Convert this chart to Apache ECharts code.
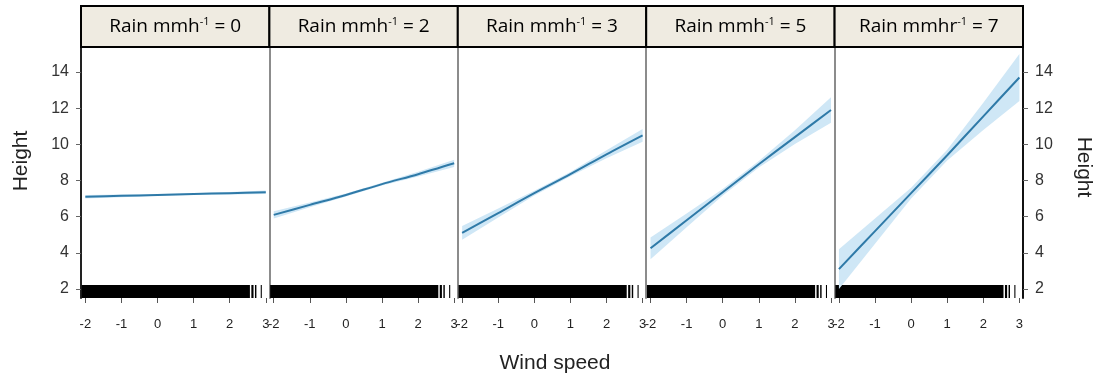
<!DOCTYPE html>
<html>
<head>
<meta charset="utf-8">
<title>Height vs wind speed by rain intensity</title>
<script src="https://cdn.jsdelivr.net/npm/echarts@6/dist/echarts.min.js"></script>
<style>
  html, body { margin: 0; padding: 0; background: #ffffff; }
  #chart { width: 1105px; height: 378px; }
</style>
</head>
<body>
<div id="chart"></div>
<script>
// Wind speed (standardised) at which the fitted curves are evaluated
const windSpeed = [-2, -1, 0, 1, 2, 3];
const windTicks = [-2, -1, 0, 1, 2, 3];
const heightTicks = [2, 4, 6, 8, 10, 12, 14];

// Panel strips: rain intensity and the unit text written in each strip
const rainLevels = ['0', '2', '3', '5', '7'];
const rainUnits = ['mmh', 'mmh', 'mmh', 'mmh', 'mmhr'];

// Fitted height for each rain level
const fitRain0 = [7.10, 7.15, 7.20, 7.25, 7.30, 7.35];
const fitRain2 = [6.10, 6.65, 7.20, 7.80, 8.35, 8.95];
const fitRain3 = [5.10, 6.20, 7.30, 8.35, 9.45, 10.50];
const fitRain5 = [4.25, 5.80, 7.35, 8.90, 10.40, 11.90];
const fitRain7 = [3.10, 5.20, 7.30, 9.40, 11.55, 13.70];

// Half-width of the confidence band around each fit
const ciRain0 = [0.10, 0.07, 0.05, 0.05, 0.07, 0.10];
const ciRain2 = [0.20, 0.13, 0.08, 0.08, 0.13, 0.20];
const ciRain3 = [0.38, 0.25, 0.13, 0.12, 0.22, 0.35];
const ciRain5 = [0.60, 0.38, 0.18, 0.18, 0.38, 0.70];
const ciRain7 = [1.10, 0.70, 0.30, 0.30, 0.75, 1.30];

// Rug of observed wind speeds: solid runs and isolated ticks [from, to]
const rugSegments = [[-2.1, 2.56], [2.60, 2.66], [2.70, 2.74], [2.86, 2.89]];

const fits = [fitRain0, fitRain2, fitRain3, fitRain5, fitRain7];
const cis = [ciRain0, ciRain2, ciRain3, ciRain5, ciRain7];

const X_MIN = -2.12, X_MAX = 3.1;
const Y_MIN = 1.5, Y_MAX = 15.33;
const RUG_TOP = 2.22;

const PANEL_LEFT = 81, PANEL_W = 188.4, PANEL_TOP = 48, PANEL_H = 250;
const LINE_COLOR = '#2f7aa8';
const BAND_COLOR = '#cfe7f6';
const SEP_COLOR = '#8c8c8c';

const grids = [], xAxes = [], yAxes = [], series = [], graphics = [];

for (let i = 0; i < 5; i++) {
  const left = PANEL_LEFT + i * PANEL_W;
  grids.push({ left: left, top: PANEL_TOP, width: PANEL_W, height: PANEL_H });

  xAxes.push({
    type: 'value', gridIndex: i, min: X_MIN, max: X_MAX,
    splitLine: { show: false },
    axisLine: { show: false, onZero: false },
    axisTick: { show: true, customValues: windTicks, length: 5, lineStyle: { color: '#555', width: 1 } },
    axisLabel: { show: true, customValues: windTicks, fontFamily: 'Liberation Sans', fontSize: 13, color: '#222', margin: 20 }
  });

  yAxes.push({
    type: 'value', gridIndex: i, min: Y_MIN, max: Y_MAX,
    splitLine: { show: false },
    axisLine: { show: true, onZero: false, lineStyle: { color: i === 0 ? '#222' : SEP_COLOR, width: 2 } },
    axisTick: { show: i === 0, customValues: heightTicks, length: 5, lineStyle: { color: '#666', width: 1 } },
    axisLabel: { show: i === 0, customValues: heightTicks, fontFamily: 'Liberation Sans', fontSize: 16, color: '#333', margin: 12 }
  });

  // Rug of observations along the bottom of the panel
  series.push({
    type: 'custom', xAxisIndex: i, yAxisIndex: i, silent: true, clip: true,
    data: rugSegments,
    encode: { x: [0, 1] },
    renderItem: function (params, api) {
      const p0 = api.coord([api.value(0), RUG_TOP]);
      const p1 = api.coord([api.value(1), Y_MIN]);
      return {
        type: 'rect',
        shape: { x: p0[0], y: p0[1], width: Math.max(1, p1[0] - p0[0]), height: p1[1] - p0[1] },
        style: { fill: '#000' }
      };
    }
  });

  const fit = fits[i], ci = cis[i];
  const bandData = windSpeed.map((x, k) => [x, fit[k] - ci[k], fit[k] + ci[k]]);

  // Confidence band drawn as one polygon: upper bound left-to-right, lower bound back
  series.push({
    type: 'custom', xAxisIndex: i, yAxisIndex: i, silent: true, clip: true,
    data: bandData,
    encode: { x: 0, y: [1, 2] },
    renderItem: function (params, api) {
      if (params.dataIndex !== 0) return null;
      const n = params.dataInsideLength;
      const upper = [], lower = [];
      for (let k = 0; k < n; k++) {
        upper.push(api.coord([api.value(0, k), api.value(2, k)]));
        lower.push(api.coord([api.value(0, k), api.value(1, k)]));
      }
      return {
        type: 'polygon',
        shape: { points: upper.concat(lower.reverse()) },
        style: { fill: BAND_COLOR }
      };
    }
  });

  // Fitted line
  series.push({
    type: 'line', xAxisIndex: i, yAxisIndex: i, silent: true,
    symbol: 'none', smooth: 0.3,
    lineStyle: { color: LINE_COLOR, width: 2 },
    data: windSpeed.map((x, k) => [x, fit[k]])
  });

  // Strip header above the panel
  graphics.push({
    type: 'rect',
    shape: { x: left, y: 6, width: PANEL_W, height: 41 },
    style: { fill: '#efebe1', stroke: '#000', lineWidth: 2 },
    z: 10
  });
  graphics.push({
    type: 'text',
    x: left + PANEL_W / 2, y: 27,
    style: {
      text: '{t|Rain ' + rainUnits[i] + '}{s|-1}{t| = ' + rainLevels[i] + '}',
      align: 'center', verticalAlign: 'middle',
      rich: {
        t: { fontFamily: 'Open Sans', fontSize: 19, color: '#3a3a3a', lineHeight: 22 },
        s: { fontFamily: 'Open Sans', fontSize: 11, color: '#3a3a3a', lineHeight: 12, verticalAlign: 'top' }
      }
    },
    z: 11
  });
}

// Right-hand height axis on the last panel
yAxes.push({
  type: 'value', gridIndex: 4, position: 'right', min: Y_MIN, max: Y_MAX,
  splitLine: { show: false },
  axisLine: { show: true, onZero: false, lineStyle: { color: '#111', width: 2 } },
  axisTick: { show: true, customValues: heightTicks, length: 5, lineStyle: { color: '#666', width: 1 } },
  axisLabel: { show: true, customValues: heightTicks, fontFamily: 'Liberation Sans', fontSize: 16, color: '#333', margin: 12 }
});

// Axis titles
graphics.push({
  type: 'text', x: 21, y: 161, rotation: Math.PI / 2,
  style: { text: 'Height', fontFamily: 'Liberation Sans', fontSize: 21, fill: '#222', align: 'center', verticalAlign: 'middle' }
});
graphics.push({
  type: 'text', x: 1084, y: 167, rotation: -Math.PI / 2,
  style: { text: 'Height', fontFamily: 'Liberation Sans', fontSize: 21, fill: '#222', align: 'center', verticalAlign: 'middle' }
});
graphics.push({
  type: 'text', x: 555, y: 363,
  style: { text: 'Wind speed', fontFamily: 'Liberation Sans', fontSize: 21, fill: '#222', align: 'center', verticalAlign: 'middle' }
});

const chart = echarts.init(document.getElementById('chart'), null, { renderer: 'canvas' });
chart.setOption({
  animation: false,
  backgroundColor: '#ffffff',
  grid: grids,
  xAxis: xAxes,
  yAxis: yAxes,
  series: series,
  graphic: graphics
});
</script>
</body>
</html>
